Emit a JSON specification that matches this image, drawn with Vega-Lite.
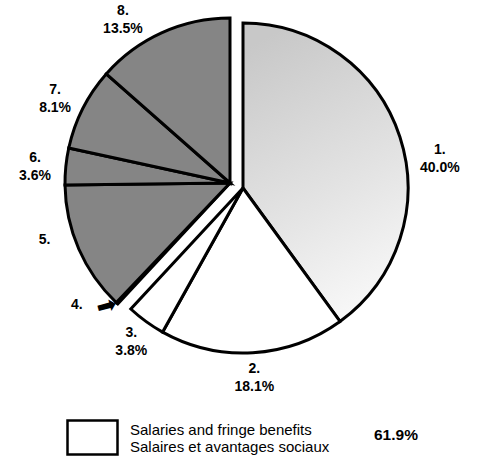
{
  "$schema": "https://vega.github.io/schema/vega-lite/v6.json",
  "width": 481,
  "height": 457,
  "autosize": "none",
  "padding": 0,
  "background": "white",
  "config": {"view": {"stroke": null}, "text": {"font": "Liberation Sans", "fontWeight": "bold", "fontSize": 14, "lineBreak": "\n", "lineHeight": 18, "align": "center", "baseline": "middle", "color": "black"}},
  "data": {"values": [
    {"slice": "1", "value": 40.0, "group": "A", "label": "1.\n40.0%"},
    {"slice": "2", "value": 18.1, "group": "A", "label": "2.\n18.1%"},
    {"slice": "3", "value": 3.8, "group": "A", "label": "3.\n3.8%"},
    {"slice": "4", "value": 0.2, "group": "B", "label": "4."},
    {"slice": "5", "value": 12.7, "group": "B", "label": "5."},
    {"slice": "6", "value": 3.6, "group": "B", "label": "6.\n3.6%"},
    {"slice": "7", "value": 8.1, "group": "B", "label": "7.\n8.1%"},
    {"slice": "8", "value": 13.5, "group": "B", "label": "8.\n13.5%"}
  ]},
  "transform": [
    {"stack": "value", "groupby": [], "sort": [{"field": "slice", "order": "ascending"}], "as": ["start", "end"]}
  ],
  "layer": [
    {
      "transform": [{"filter": "datum.group == 'B'"}],
      "mark": {"type": "arc", "radius": 165, "fill": "#858585", "stroke": "black", "strokeWidth": 3, "strokeJoin": "miter", "xOffset": -10.5, "yOffset": -45.5},
      "encoding": {
        "theta": {"field": "start", "type": "quantitative", "scale": {"domain": [0, 100]}},
        "theta2": {"field": "end"}
      }
    },
    {
      "transform": [{"filter": "datum.slice == '1'"}],
      "mark": {"type": "arc", "radius": 165, "stroke": "black", "strokeWidth": 3, "strokeJoin": "miter", "xOffset": 2.5, "yOffset": -40.5,
        "fill": {"gradient": "linear", "x1": 0.3, "y1": 0, "x2": 0.6, "y2": 1, "stops": [{"offset": 0, "color": "#c8c8c8"}, {"offset": 0.6, "color": "#e4e4e4"}, {"offset": 1, "color": "#f8f8f8"}]}},
      "encoding": {
        "theta": {"field": "start", "type": "quantitative", "scale": {"domain": [0, 100]}},
        "theta2": {"field": "end"}
      }
    },
    {
      "transform": [{"filter": "datum.slice == '2' || datum.slice == '3'"}],
      "mark": {"type": "arc", "radius": 165, "stroke": "black", "strokeWidth": 3, "strokeJoin": "miter", "xOffset": 2.5, "yOffset": -40.5, "opacity": 1},
      "encoding": {
        "theta": {"field": "start", "type": "quantitative", "scale": {"domain": [0, 100]}},
        "theta2": {"field": "end"},
        "fill": {
          "field": "group", "type": "nominal",
          "scale": {"domain": ["A"], "range": ["white"]},
          "legend": {
            "orient": "none", "legendX": 66, "legendY": 411, "padding": 0,
            "title": "61.9%", "titleOrient": "right", "titlePadding": 45,
            "titleFont": "Liberation Sans", "titleFontSize": 15.5, "titleFontWeight": "bold", "titleColor": "black",
            "labelExpr": "['Salaries and fringe benefits', 'Salaires et avantages sociaux']",
            "labelFont": "Liberation Sans", "labelFontSize": 15, "labelColor": "black", "labelOffset": 11, "labelLimit": 400, "labelBaseline": "bottom",
            "symbolType": "M-1,-0.68L1,-0.68L1,0.68L-1,0.68Z", "symbolSize": 2500,
            "symbolStrokeColor": "black", "symbolStrokeWidth": 2.5, "symbolFillColor": "white", "symbolOpacity": 1
          }
        }
      }
    },
    {
      "mark": {"type": "text", "radius": 190, "dy": -9, "xOffset": 2.5, "yOffset": -40.5},
      "encoding": {
        "theta": {"field": "value", "type": "quantitative", "stack": true},
        "order": {"field": "slice"},
        "text": {"condition": {"test": "datum.slice == '2' || datum.slice == '3'", "field": "label"}, "value": ""}
      }
    },
    {
      "mark": {"type": "text", "radius": 199, "dy": -9, "thetaOffset": 0.168, "xOffset": 2.5, "yOffset": -40.5},
      "encoding": {
        "theta": {"field": "value", "type": "quantitative", "stack": true},
        "order": {"field": "slice"},
        "text": {"condition": {"test": "datum.slice == '1'", "field": "label"}, "value": ""}
      }
    },
    {
      "mark": {"type": "text", "radius": 196, "dy": -5, "xOffset": -10.5, "yOffset": -45.5},
      "encoding": {
        "theta": {"field": "value", "type": "quantitative", "stack": true},
        "order": {"field": "slice"},
        "text": {"condition": {"test": "datum.slice == '6' || datum.slice == '7'", "field": "label"}, "value": ""}
      }
    },
    {
      "mark": {"type": "text", "radius": 195, "dy": -9, "thetaOffset": -0.157, "xOffset": -10.5, "yOffset": -45.5},
      "encoding": {
        "theta": {"field": "value", "type": "quantitative", "stack": true},
        "order": {"field": "slice"},
        "text": {"condition": {"test": "datum.slice == '8'", "field": "label"}, "value": ""}
      }
    },
    {
      "mark": {"type": "text", "radius": 194, "thetaOffset": 0.113, "xOffset": -10.5, "yOffset": -45.5},
      "encoding": {
        "theta": {"field": "value", "type": "quantitative", "stack": true},
        "order": {"field": "slice"},
        "text": {"condition": {"test": "datum.slice == '5'", "field": "label"}, "value": ""}
      }
    },
    {
      "mark": {"type": "text", "radius": 167, "align": "right", "dx": -33, "xOffset": -10.5, "yOffset": -45.5},
      "encoding": {
        "theta": {"field": "value", "type": "quantitative", "stack": true},
        "order": {"field": "slice"},
        "text": {"condition": {"test": "datum.slice == '4'", "field": "label"}, "value": ""}
      }
    },
    {
      "mark": {"type": "text", "radius": 166, "font": "DejaVu Sans", "fontWeight": "normal", "fontSize": 24, "align": "right", "angle": 345, "xOffset": -10.5, "yOffset": -45.5},
      "encoding": {
        "theta": {"field": "value", "type": "quantitative", "stack": true},
        "order": {"field": "slice"},
        "text": {"condition": {"test": "datum.slice == '4'", "value": "➡"}, "value": ""}
      }
    }
  ]
}
